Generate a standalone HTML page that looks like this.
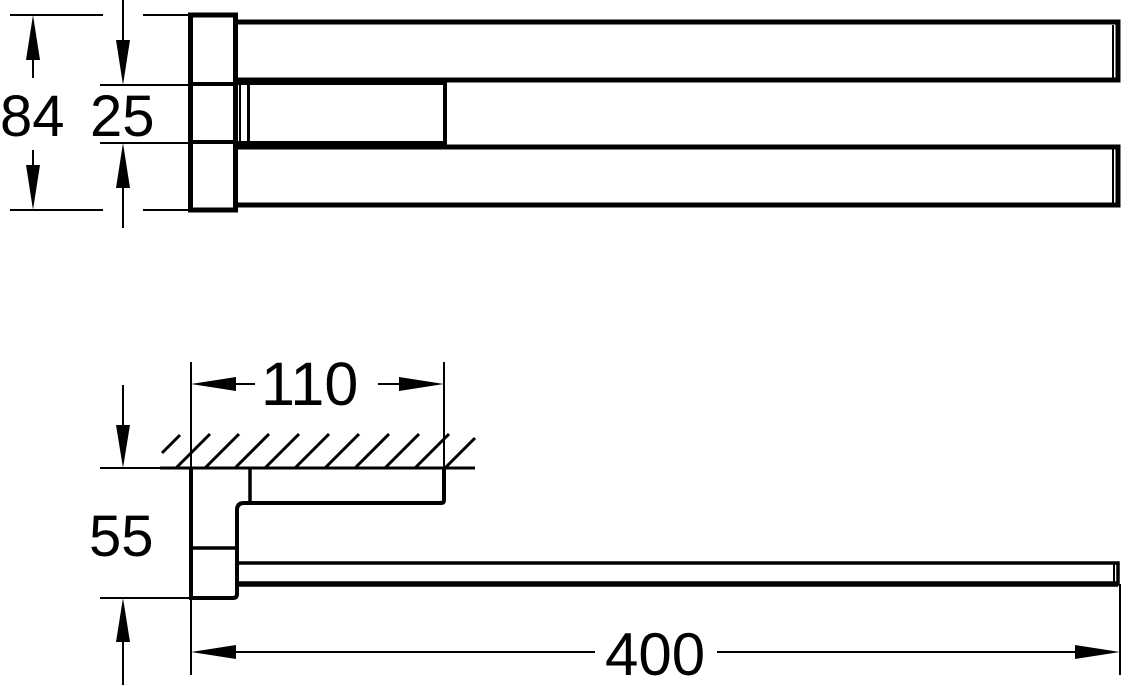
<!DOCTYPE html>
<html><head><meta charset="utf-8"><style>
html,body{margin:0;padding:0;background:#fff;}
svg{display:block;}
text{font-family:"Liberation Sans",sans-serif;fill:#000;}
</style></head><body>
<svg width="1128" height="686" viewBox="0 0 1128 686" xmlns="http://www.w3.org/2000/svg">
<g stroke="#000" fill="none">
<g stroke-width="2">
<line x1="10" y1="15" x2="103" y2="15"/>
<line x1="10" y1="210" x2="103" y2="210"/>
<line x1="143" y1="15" x2="190" y2="15"/>
<line x1="143" y1="210" x2="190" y2="210"/>
<line x1="100" y1="85" x2="190" y2="85"/>
<line x1="100" y1="143" x2="190" y2="143"/>
<line x1="33" y1="50" x2="33" y2="78"/>
<line x1="33" y1="150" x2="33" y2="180"/>
<line x1="123" y1="0" x2="123" y2="50"/>
<line x1="123" y1="175" x2="123" y2="228"/>
</g>
<rect x="190.5" y="15" width="45" height="195" stroke-width="5"/>
<line x1="190" y1="84" x2="236" y2="84" stroke-width="4"/>
<line x1="190" y1="142" x2="236" y2="142" stroke-width="4"/>
<path d="M236 22 H1118 V80 H236" stroke-width="5"/>
<line x1="1113" y1="25" x2="1113" y2="78" stroke-width="2"/>
<path d="M236 147 H1118 V205 H236" stroke-width="5"/>
<line x1="1113" y1="149" x2="1113" y2="203" stroke-width="2"/>
<path d="M236 83 H445 V143 H236" stroke-width="4"/>
<line x1="248.5" y1="85" x2="248.5" y2="142" stroke-width="3"/>
<line x1="240" y1="85" x2="240" y2="142" stroke-width="2"/>

<g stroke-width="2">
<line x1="191" y1="362" x2="191" y2="675"/>
<line x1="444" y1="362" x2="444" y2="468"/>
<line x1="235" y1="384" x2="255" y2="384"/>
<line x1="378" y1="384" x2="400" y2="384"/>
<line x1="100" y1="468" x2="190" y2="468"/>
<line x1="100" y1="598" x2="190" y2="598"/>
<line x1="123" y1="385" x2="123" y2="430"/>
<line x1="123" y1="640" x2="123" y2="685"/>
<line x1="235" y1="652" x2="595" y2="652"/>
<line x1="717" y1="652" x2="1075" y2="652"/>
<line x1="1120" y1="584" x2="1120" y2="675"/>
</g>
<line x1="160" y1="468" x2="475" y2="468" stroke-width="3"/>
<g stroke-width="3">
<line x1="162" y1="453" x2="180" y2="435"/>
<line x1="176" y1="468" x2="210" y2="434"/>
<line x1="205" y1="468" x2="239" y2="434"/>
<line x1="235" y1="468" x2="269" y2="434"/>
<line x1="265" y1="468" x2="299" y2="434"/>
<line x1="295" y1="468" x2="329" y2="434"/>
<line x1="325" y1="468" x2="359" y2="434"/>
<line x1="355" y1="468" x2="389" y2="434"/>
<line x1="385" y1="468" x2="419" y2="434"/>
<line x1="415" y1="468" x2="449" y2="434"/>
<line x1="445" y1="468" x2="475" y2="438"/>
</g>
<path d="M191 468 V598 H233 Q237 598 237 594 V510 Q237 503 244 503 H441 Q444 503 444 500 V468" stroke-width="4"/>
<line x1="250" y1="468" x2="250" y2="503" stroke-width="3.5"/>
<line x1="191" y1="548" x2="237" y2="548" stroke-width="3.5"/>
<path d="M237 563 H1118 V584 H237" stroke-width="3.5"/>
<line x1="237" y1="584" x2="1118" y2="584" stroke-width="5.5"/>
<line x1="1114" y1="564" x2="1114" y2="583" stroke-width="2"/>
</g>
<g fill="#000">
<polygon points="33,15 26,60 40,60"/>
<polygon points="33,210 26,165 40,165"/>
<polygon points="123,85 116,40 130,40"/>
<polygon points="123,143 116,188 130,188"/>
<polygon points="191,384 236,377 236,391"/>
<polygon points="444,384 399,377 399,391"/>
<polygon points="123,468 116,425 130,425"/>
<polygon points="123,598 116,642 130,642"/>
<polygon points="191,652 236,645 236,659"/>
<polygon points="1120,652 1075,645 1075,659"/>
</g>
<text x="0" y="136" font-size="58">84</text>
<text x="90" y="136" font-size="58">25</text>
<text x="261" y="405" font-size="61">110</text>
<text x="89" y="556" font-size="58">55</text>
<text x="605" y="675" font-size="60">400</text>
</svg>
</body></html>
